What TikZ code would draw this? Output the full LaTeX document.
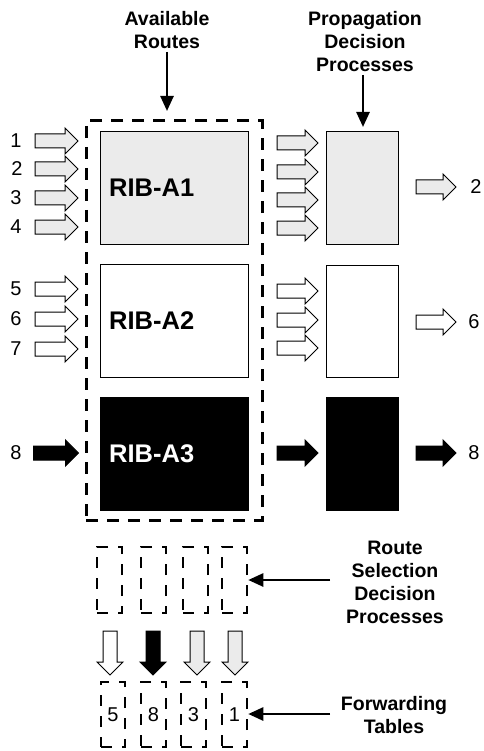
\documentclass[tikz,border=0pt]{standalone}
\usepackage{fontspec}
\setmainfont{Liberation Sans}
\usetikzlibrary{shapes.arrows,arrows.meta}
\definecolor{lgray}{HTML}{EBEBEB}
\begin{document}
\begin{tikzpicture}[x=1pt,y=-1pt,
  title/.style={font=\fontsize{19.5}{23}\selectfont\bfseries, align=center, inner sep=0pt},
  num/.style={font=\fontsize{20}{23}\selectfont, inner sep=0pt},
  ribtext/.style={font=\fontsize{25.5}{30}\selectfont\bfseries, inner sep=0pt, anchor=west},
  box/.style={draw, line width=1pt, inner sep=0pt, outer sep=0pt},
  bigdash/.style={draw, line width=3pt, dash pattern=on 12pt off 9pt},
  smalldash/.style={draw, line width=2.5pt, dash pattern=on 11pt off 10pt, inner sep=0pt, minimum width=25pt, minimum height=66pt},
  barrow/.style={single arrow, draw, line width=1pt, inner xsep=0pt, inner ysep=6.5pt, single arrow head extend=6pt, minimum height=#1},
  darrow/.style={single arrow, draw, line width=1pt, inner xsep=6.5pt, inner ysep=0pt, single arrow head extend=6pt, minimum height=#1, shape border rotate=270},
  larrow/.style={line width=2.5pt, -{Triangle[length=15pt,width=13pt]}}
]
\useasboundingbox (0,0) rectangle (483,751);

% titles
\node[title] (avail) at (167,30) {Available\\Routes};
\node[title] (prop) at (365,41.5) {Propagation\\Decision\\Processes};
\coordinate (availS) at (167,52);
\coordinate (availE) at (167,111);
\coordinate (propS) at (363,75);
\coordinate (propE) at (363,127);
\draw[larrow] (availS) -- (availE);
\draw[larrow] (propS) -- (propE);

% big dashed box
\node[bigdash, minimum width=176pt, minimum height=399pt, inner sep=0pt] (avbox) at (174,320.5) {};

% RIB boxes
\node[box, fill=lgray, minimum width=148pt, minimum height=112pt] (ribA1) at (174,188) {};
\node[box, fill=white, minimum width=148pt, minimum height=113pt] (ribA2) at (174,320.5) {};
\node[box, fill=black, minimum width=148pt, minimum height=113pt] (ribA3) at (174,453.5) {};
\node[ribtext] (tA1) at (109,188) {RIB-A1};
\node[ribtext] (tA2) at (109,321) {RIB-A2};
\node[ribtext, text=white] (tA3) at (109,453.5) {RIB-A3};

% propagation boxes
\node[box, fill=lgray, minimum width=72pt, minimum height=112pt] (pA1) at (362,188) {};
\node[box, fill=white, minimum width=72pt, minimum height=112pt] (pA2) at (362,321) {};
\node[box, fill=black, minimum width=72pt, minimum height=113pt] (pA3) at (362,453.5) {};

% input labels and arrows
\node[num] (n1) at (16,141) {1};
\node[num] (n2) at (17,169) {2};
\node[num] (n3) at (16,198) {3};
\node[num] (n4) at (16,227) {4};
\node[num] (n5) at (16,289) {5};
\node[num] (n6) at (16,319) {6};
\node[num] (n7) at (16,349) {7};
\node[num] (n8) at (16,453) {8};
\node[barrow=43pt, fill=lgray] (i1) at (53,141) {};
\node[barrow=43pt, fill=lgray] (i2) at (53,169) {};
\node[barrow=43pt, fill=lgray] (i3) at (53,198) {};
\node[barrow=43pt, fill=lgray] (i4) at (53,227) {};
\node[barrow=43pt, fill=white] (i5) at (53,289) {};
\node[barrow=43pt, fill=white] (i6) at (53,319) {};
\node[barrow=43pt, fill=white] (i7) at (53,349) {};
\node[barrow=45pt, fill=black] (i8) at (52.5,453) {};

% middle arrows
\node[barrow=41pt, fill=lgray] (m1) at (294,143) {};
\node[barrow=41pt, fill=lgray] (m2) at (294,172) {};
\node[barrow=41pt, fill=lgray] (m3) at (294,200) {};
\node[barrow=41pt, fill=lgray] (m4) at (294,228) {};
\node[barrow=41pt, fill=white] (m5) at (294,291) {};
\node[barrow=41pt, fill=white] (m6) at (294,320) {};
\node[barrow=41pt, fill=white] (m7) at (294,348) {};
\node[barrow=41pt, fill=black] (m8) at (294,453) {};

% output arrows and labels
\node[barrow=40pt, fill=lgray] (o1) at (432.5,187) {};
\node[barrow=40pt, fill=white] (o2) at (432.5,322) {};
\node[barrow=40pt, fill=black] (o3) at (432.5,453) {};
\node[num] (r1) at (476,187) {2};
\node[num] (r2) at (474,322) {6};
\node[num] (r3) at (474,453) {8};

% route selection boxes
\node[smalldash] (rs1) at (109.5,580) {};
\node[smalldash] (rs2) at (153.5,580) {};
\node[smalldash] (rs3) at (195.5,580) {};
\node[smalldash] (rs4) at (234.5,580) {};

% down arrows
\node[darrow=44pt, fill=white] (d1) at (110,649.5) {};
\node[darrow=44pt, fill=black] (d2) at (153,649.5) {};
\node[darrow=44pt, fill=lgray] (d3) at (197,649.5) {};
\node[darrow=44pt, fill=lgray] (d4) at (235,649.5) {};

% forwarding tables
\node[smalldash, minimum width=24pt, minimum height=65pt, num] (ft1) at (113,714.5) {5};
\node[smalldash, minimum height=65pt, num] (ft2) at (153.5,714.5) {8};
\node[smalldash, minimum height=65pt, num] (ft3) at (193.5,714.5) {3};
\node[smalldash, minimum height=65pt, num] (ft4) at (234.5,714.5) {1};

% right labels
\node[title] (rsl) at (395,582) {Route\\Selection\\Decision\\Processes};
\node[title] (ftl) at (394,715.5) {Forwarding\\Tables};
\coordinate (rsS) at (330,580);
\coordinate (ftS) at (330,714);
\draw[larrow] (rsS) -- (rs4.east |- rsS);
\draw[larrow] (ftS) -- (ft4.east |- ftS);
\end{tikzpicture}
\end{document}
